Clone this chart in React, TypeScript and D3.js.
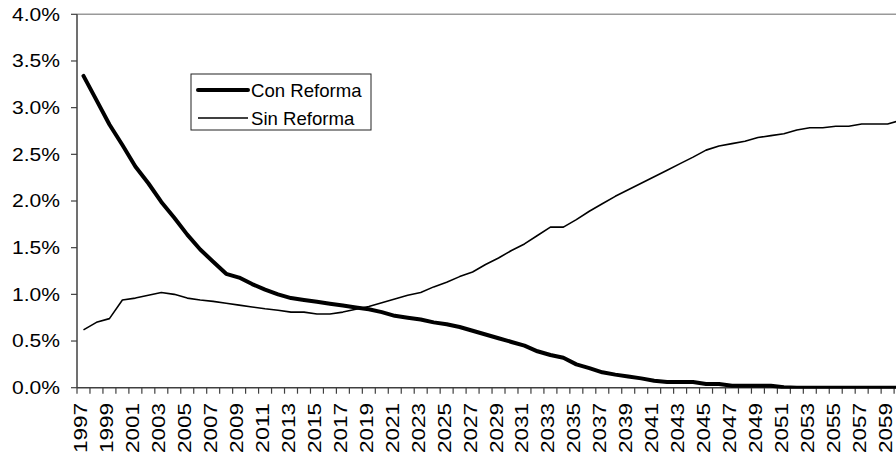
import React from "react";
import * as d3 from "d3";

// Years on the category axis (1997–2060); every second one is labelled
const years: number[] = d3.range(1997, 2061);
const tickLabelYears: number[] = d3.range(1997, 2061, 2);
const yTicks: number[] = [0, 0.005, 0.01, 0.015, 0.02, 0.025, 0.03, 0.035, 0.04];

// Series values (share, as fractions) per year
const conReforma: number[] = [
  3.34, 3.08, 2.82, 2.6, 2.37, 2.19, 1.99, 1.82, 1.64, 1.48,
  1.35, 1.22, 1.18, 1.11, 1.05, 1.0, 0.96, 0.94, 0.92, 0.9,
  0.88, 0.86, 0.84, 0.81, 0.77, 0.75, 0.73, 0.7, 0.68, 0.65,
  0.61, 0.57, 0.53, 0.49, 0.45, 0.39, 0.35, 0.32, 0.25, 0.21,
  0.165, 0.14, 0.12, 0.1, 0.075, 0.06, 0.06, 0.06, 0.04, 0.04,
  0.02, 0.02, 0.02, 0.02, 0.005, 0, 0, 0, 0, 0,
  0, 0, 0, 0,
].map((v) => v / 100);

const sinReforma: number[] = [
  0.62, 0.7, 0.74, 0.94, 0.96, 0.99, 1.02, 1.0, 0.96, 0.94,
  0.925, 0.905, 0.885, 0.865, 0.845, 0.83, 0.81, 0.81, 0.79, 0.79,
  0.81, 0.84, 0.87, 0.91, 0.95, 0.99, 1.02, 1.08, 1.13, 1.19,
  1.24, 1.32, 1.39, 1.47, 1.54, 1.63, 1.72, 1.72, 1.8, 1.89,
  1.97, 2.05, 2.12, 2.19, 2.26, 2.33, 2.4, 2.47, 2.545, 2.59,
  2.615, 2.64, 2.68, 2.7, 2.72, 2.76, 2.785, 2.785, 2.8, 2.8,
  2.825, 2.825, 2.825, 2.865,
].map((v) => v / 100);

const seriesNames: string[] = ["Con Reforma", "Sin Reforma"];

const W = 896;
const H = 455;
const left = 77;
const top = 14.3;
const bottom = 387.7;
const step = 12.97;

const FONT = "'Liberation Sans', Arial, sans-serif";

export default function App() {
  const x = d3
    .scaleBand<number>()
    .domain(years)
    .range([left, left + step * years.length])
    .padding(0);
  const bw = x.bandwidth();
  const cx = (yr: number) => (x(yr) as number) + bw / 2;
  const y = d3.scaleLinear().domain([0, 0.04]).range([bottom, top]);
  const fmt = d3.format(".1%");

  const line = d3
    .line<number>()
    .x((_, i) => cx(years[i]))
    .y((d) => y(d));

  const boundaries = d3.range(0, years.length + 1).map((i) => left + i * bw);

  return (
    <svg
      width={W}
      height={H}
      style={{ position: "fixed", left: 0, top: 0, background: "#fff" }}
      fontFamily={FONT}
    >
      <defs>
        <clipPath id="plot">
          <rect x={left} y={0} width={W - left} height={bottom + 1} />
        </clipPath>
      </defs>

      {/* plot frame top edge */}
      <line x1={left} x2={W} y1={top} y2={top} stroke="#999" strokeWidth={1.5} />

      {/* y axis */}
      <line x1={left} x2={left} y1={top} y2={bottom} stroke="#404040" strokeWidth={1.5} />
      {yTicks.map((t) => (
        <g key={t}>
          <line x1={left - 6} x2={left} y1={y(t)} y2={y(t)} stroke="#404040" strokeWidth={1.2} />
          <text
            x={60}
            y={y(t) + 6.2}
            textAnchor="end"
            fontSize={17.5}
            textLength={48}
            lengthAdjust="spacingAndGlyphs"
            fill="#000"
          >
            {fmt(t)}
          </text>
        </g>
      ))}

      {/* x axis */}
      <line x1={left} x2={W} y1={bottom} y2={bottom} stroke="#404040" strokeWidth={1.5} />
      {boundaries.map((b, i) => (
        <line key={i} x1={b} x2={b} y1={bottom} y2={bottom + 6} stroke="#404040" strokeWidth={1.2} />
      ))}
      {tickLabelYears.map((yr) => {
        const bx = cx(yr) + 4;
        const by = 403;
        return (
          <text
            key={yr}
            transform={`translate(${bx},${by}) rotate(-90)`}
            textAnchor="end"
            fontSize={17.5}
            textLength={50}
            lengthAdjust="spacingAndGlyphs"
            fill="#000"
          >
            {yr}
          </text>
        );
      })}

      {/* series */}
      <g clipPath="url(#plot)">
        <path
          d={line(sinReforma) ?? ""}
          fill="none"
          stroke="#000"
          strokeWidth={1.6}
          strokeLinejoin="round"
        />
        <path
          d={line(conReforma) ?? ""}
          fill="none"
          stroke="#000"
          strokeWidth={4}
          strokeLinejoin="round"
          strokeLinecap="round"
        />
      </g>

      {/* legend */}
      <g>
        <rect x={191} y={74} width={180} height={56} fill="#fff" stroke="#222" strokeWidth={1} />
        {seriesNames.map((name, i) => {
          const ly = i === 0 ? 90 : 118;
          return (
            <g key={name}>
              <line
                x1={198}
                x2={248}
                y1={ly}
                y2={ly}
                stroke="#000"
                strokeWidth={i === 0 ? 4 : 1.6}
                strokeLinecap={i === 0 ? "round" : "butt"}
              />
              <text x={251} y={ly + 6.6} fontSize={18.6} fill="#000">
                {name}
              </text>
            </g>
          );
        })}
      </g>
    </svg>
  );
}
